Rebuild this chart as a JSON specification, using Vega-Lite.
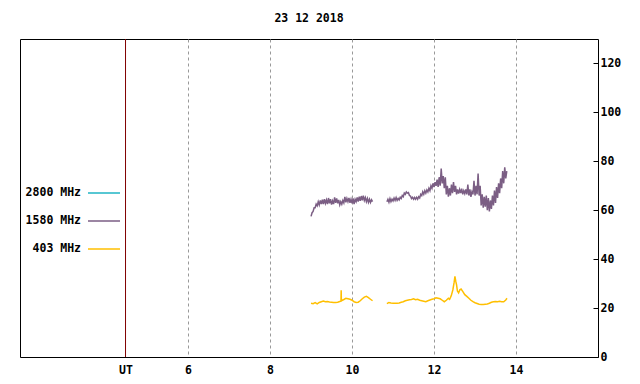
{
  "$schema": "https://vega.github.io/schema/vega-lite/v6.json",
  "width": 578,
  "height": 318,
  "autosize": {"type": "none"},
  "padding": {"left": 20, "top": 39, "right": 42, "bottom": 27},
  "background": "white",
  "title": {"text": "23 12 2018", "font": "DejaVu Sans Mono", "fontSize": 11.5, "fontWeight": "bold", "color": "black", "offset": 14, "anchor": "middle"},
  "config": {
    "view": {"stroke": "black", "strokeWidth": 1},
    "axis": {"labelFont": "DejaVu Sans Mono", "labelFontSize": 11.5, "labelFontWeight": "bold", "labelColor": "black", "labelFlush": false},
    "legend": {"labelFont": "DejaVu Sans Mono", "labelFontSize": 11.5, "labelFontWeight": "bold", "labelColor": "black"}
  },
  "datasets": {
    "ut": [{"t": 4.474}],
    "p1": [
      {"t":9.000,"v":57.5},{"t":9.025,"v":59},{"t":9.050,"v":59.5},{"t":9.075,"v":61},{"t":9.100,"v":61},{"t":9.125,"v":62.5},{"t":9.150,"v":61.8},{"t":9.175,"v":63.5},{"t":9.200,"v":62.2},{"t":9.225,"v":64},{"t":9.250,"v":62.5},{"t":9.275,"v":64.3},{"t":9.300,"v":62.5},{"t":9.325,"v":64.5},{"t":9.350,"v":62.8},{"t":9.375,"v":64.2},{"t":9.400,"v":62.5},{"t":9.425,"v":65},{"t":9.450,"v":62.8},{"t":9.475,"v":64.5},{"t":9.500,"v":62.3},{"t":9.525,"v":63.8},{"t":9.550,"v":62.5},{"t":9.575,"v":65.3},{"t":9.600,"v":63},{"t":9.625,"v":64.8},{"t":9.650,"v":62.8},{"t":9.675,"v":64.2},{"t":9.700,"v":62.2},{"t":9.725,"v":63.5},{"t":9.750,"v":62.5},{"t":9.775,"v":64},{"t":9.800,"v":63},{"t":9.825,"v":65.5},{"t":9.850,"v":63.2},{"t":9.875,"v":64.8},{"t":9.900,"v":63.5},{"t":9.925,"v":65},{"t":9.950,"v":63},{"t":9.975,"v":64.5},{"t":10.000,"v":62.8},{"t":10.025,"v":64.8},{"t":10.050,"v":62.5},{"t":10.075,"v":64.5},{"t":10.100,"v":63.5},{"t":10.125,"v":65.2},{"t":10.150,"v":63.5},{"t":10.175,"v":65.5},{"t":10.200,"v":63.8},{"t":10.225,"v":65.8},{"t":10.250,"v":64},{"t":10.275,"v":66},{"t":10.300,"v":64},{"t":10.325,"v":65.2},{"t":10.350,"v":63.5},{"t":10.375,"v":64.8},{"t":10.400,"v":63.2},{"t":10.425,"v":64.5},{"t":10.450,"v":63.2},{"t":10.475,"v":64.3},{"t":10.500,"v":63.5}
    ],
    "p2": [
      {"t":10.850,"v":63.5},{"t":10.875,"v":64.5},{"t":10.900,"v":63.3},{"t":10.925,"v":64.8},{"t":10.950,"v":63.5},{"t":10.975,"v":64.5},{"t":11.000,"v":63.8},{"t":11.025,"v":65},{"t":11.050,"v":64},{"t":11.075,"v":65.2},{"t":11.100,"v":64},{"t":11.125,"v":64.8},{"t":11.150,"v":64.2},{"t":11.175,"v":65.3},{"t":11.200,"v":64.8},{"t":11.225,"v":66},{"t":11.250,"v":65.5},{"t":11.275,"v":67},{"t":11.300,"v":66.5},{"t":11.325,"v":67.5},{"t":11.350,"v":67},{"t":11.375,"v":67.2},{"t":11.400,"v":66},{"t":11.425,"v":65.8},{"t":11.450,"v":64.8},{"t":11.475,"v":65.3},{"t":11.500,"v":64.5},{"t":11.525,"v":65.2},{"t":11.550,"v":64.5},{"t":11.575,"v":65.3},{"t":11.600,"v":64.5},{"t":11.625,"v":65.5},{"t":11.650,"v":65},{"t":11.675,"v":66.5},{"t":11.700,"v":66},{"t":11.725,"v":67.5},{"t":11.750,"v":66.5},{"t":11.775,"v":68},{"t":11.800,"v":67},{"t":11.825,"v":68.3},{"t":11.850,"v":67.5},{"t":11.875,"v":69},{"t":11.900,"v":68},{"t":11.925,"v":70},{"t":11.950,"v":69},{"t":11.975,"v":71},{"t":12.000,"v":69.5},{"t":12.025,"v":71.5},{"t":12.050,"v":70},{"t":12.075,"v":72.5},{"t":12.100,"v":69.5},{"t":12.125,"v":73.5},{"t":12.150,"v":70},{"t":12.175,"v":77},{"t":12.200,"v":71},{"t":12.225,"v":74},{"t":12.250,"v":69},{"t":12.275,"v":73.5},{"t":12.300,"v":66.5},{"t":12.325,"v":70},{"t":12.350,"v":65.5},{"t":12.375,"v":69},{"t":12.400,"v":66},{"t":12.425,"v":70.5},{"t":12.450,"v":67},{"t":12.475,"v":71.5},{"t":12.500,"v":67.5},{"t":12.525,"v":70},{"t":12.550,"v":66.5},{"t":12.575,"v":68.5},{"t":12.600,"v":66.8},{"t":12.625,"v":68.5},{"t":12.650,"v":67},{"t":12.675,"v":68.8},{"t":12.700,"v":66.5},{"t":12.725,"v":68},{"t":12.750,"v":66.8},{"t":12.775,"v":68.5},{"t":12.800,"v":66.5},{"t":12.825,"v":70.5},{"t":12.850,"v":66},{"t":12.875,"v":68.5},{"t":12.900,"v":65.5},{"t":12.925,"v":67.5},{"t":12.950,"v":66.5},{"t":12.975,"v":72},{"t":13.000,"v":66},{"t":13.025,"v":70},{"t":13.050,"v":66.5},{"t":13.075,"v":75},{"t":13.100,"v":66},{"t":13.125,"v":70},{"t":13.150,"v":62},{"t":13.175,"v":66.5},{"t":13.200,"v":61},{"t":13.225,"v":65.5},{"t":13.250,"v":61.5},{"t":13.275,"v":66},{"t":13.300,"v":60},{"t":13.325,"v":65},{"t":13.350,"v":59.5},{"t":13.375,"v":64},{"t":13.400,"v":60.5},{"t":13.425,"v":66},{"t":13.450,"v":62},{"t":13.475,"v":68},{"t":13.500,"v":63},{"t":13.525,"v":69.5},{"t":13.550,"v":65},{"t":13.575,"v":71},{"t":13.600,"v":67},{"t":13.625,"v":73},{"t":13.650,"v":69},{"t":13.675,"v":76},{"t":13.700,"v":71},{"t":13.725,"v":77.5},{"t":13.750,"v":73},{"t":13.775,"v":76}
    ],
    "o1": [
      {"t":9.00,"v":22},{"t":9.05,"v":21.8},{"t":9.10,"v":22.2},{"t":9.15,"v":21.7},{"t":9.20,"v":22.3},{"t":9.25,"v":22.6},{"t":9.30,"v":22.9},{"t":9.35,"v":22.6},{"t":9.40,"v":22.7},{"t":9.45,"v":22.5},{"t":9.50,"v":22.4},{"t":9.55,"v":22.3},{"t":9.60,"v":22.3},{"t":9.65,"v":22.4},{"t":9.70,"v":22.7},{"t":9.73,"v":22.8},{"t":9.735,"v":27.3},{"t":9.74,"v":23},{"t":9.80,"v":23.5},{"t":9.85,"v":24},{"t":9.90,"v":23.8},{"t":9.95,"v":23.6},{"t":10.00,"v":23.2},{"t":10.05,"v":22.6},{"t":10.10,"v":22.3},{"t":10.15,"v":22.4},{"t":10.20,"v":23},{"t":10.25,"v":23.8},{"t":10.30,"v":24.5},{"t":10.35,"v":24.8},{"t":10.40,"v":24.3},{"t":10.45,"v":23.6},{"t":10.50,"v":23}
    ],
    "o2": [
      {"t":10.85,"v":21.8},{"t":10.90,"v":22.3},{"t":10.95,"v":22.1},{"t":11.00,"v":22},{"t":11.05,"v":22},{"t":11.10,"v":22},{"t":11.15,"v":22.1},{"t":11.20,"v":22.4},{"t":11.25,"v":22.6},{"t":11.30,"v":23},{"t":11.35,"v":23.2},{"t":11.40,"v":23.4},{"t":11.45,"v":23.5},{"t":11.50,"v":23.8},{"t":11.55,"v":23.4},{"t":11.60,"v":23.6},{"t":11.65,"v":23.2},{"t":11.70,"v":23},{"t":11.75,"v":22.8},{"t":11.80,"v":22.6},{"t":11.85,"v":23},{"t":11.90,"v":23.3},{"t":11.95,"v":23.6},{"t":12.00,"v":23.8},{"t":12.05,"v":24.2},{"t":12.10,"v":24},{"t":12.15,"v":23.8},{"t":12.20,"v":23.2},{"t":12.25,"v":22.6},{"t":12.30,"v":23.2},{"t":12.35,"v":24},{"t":12.38,"v":23.6},{"t":12.42,"v":25},{"t":12.46,"v":27.5},{"t":12.49,"v":30.5},{"t":12.51,"v":33},{"t":12.53,"v":31},{"t":12.55,"v":29.5},{"t":12.57,"v":27},{"t":12.60,"v":26.2},{"t":12.63,"v":27.5},{"t":12.66,"v":27.8},{"t":12.70,"v":26.8},{"t":12.75,"v":25.5},{"t":12.80,"v":24.8},{"t":12.85,"v":24},{"t":12.90,"v":23.2},{"t":12.95,"v":22.6},{"t":13.00,"v":22.2},{"t":13.05,"v":21.9},{"t":13.10,"v":21.6},{"t":13.15,"v":21.5},{"t":13.20,"v":21.5},{"t":13.25,"v":21.6},{"t":13.30,"v":21.7},{"t":13.35,"v":22},{"t":13.40,"v":22.4},{"t":13.45,"v":22.6},{"t":13.50,"v":22.7},{"t":13.55,"v":22.6},{"t":13.60,"v":22.8},{"t":13.65,"v":22.6},{"t":13.70,"v":22.6},{"t":13.75,"v":23.3},{"t":13.78,"v":24}
    ]
  },
  "layer": [
    {
      "data": {"name": "ut"},
      "mark": {"type": "rule", "color": "#800000", "strokeWidth": 1},
      "encoding": {
        "x": {"field": "t", "type": "quantitative", "scale": {"domain": [1.9, 16], "nice": false, "zero": false}}
      }
    },
    {
      "data": {"name": "p1"},
      "mark": {"type": "line", "strokeWidth": 1.5, "interpolate": "linear"},
      "encoding": {
        "x": {"field": "t", "type": "quantitative", "scale": {"domain": [1.9, 16], "nice": false, "zero": false},
          "axis": {"title": null, "values": [4.474, 6, 8, 10, 12, 14], "format": "d", "labelExpr": "datum.value < 5 ? 'UT' : datum.label", "grid": true, "gridDash": [3, 3], "gridColor": {"condition": {"test": "datum.value < 5", "value": "transparent"}, "value": "#999999"}, "ticks": false, "domain": false, "labelPadding": 7}},
        "y": {"field": "v", "type": "quantitative", "scale": {"domain": [0, 130], "nice": false},
          "axis": {"title": null, "orient": "right", "values": [0, 20, 40, 60, 80, 100, 120], "grid": false, "domain": false, "tickSize": -5, "tickColor": "black", "labelPadding": 7}},
        "color": {"datum": "1580 MHz", "type": "nominal",
          "scale": {"domain": ["2800 MHz", "1580 MHz", "403 MHz"], "range": ["#1fb4c4", "#7b5e84", "#ffbf00"]},
          "legend": {"title": null, "orient": "none", "legendX": 67, "legendY": 137, "direction": "vertical", "symbolType": "stroke", "symbolSize": 1024, "symbolStrokeWidth": 1.5, "rowPadding": 5, "labelAlign": "right", "labelOffset": -40, "padding": 0}}
      }
    },
    {
      "data": {"name": "p2"},
      "mark": {"type": "line", "strokeWidth": 1.5},
      "encoding": {
        "x": {"field": "t", "type": "quantitative"},
        "y": {"field": "v", "type": "quantitative"},
        "color": {"datum": "1580 MHz", "type": "nominal"}
      }
    },
    {
      "data": {"name": "o1"},
      "mark": {"type": "line", "strokeWidth": 1.5},
      "encoding": {
        "x": {"field": "t", "type": "quantitative"},
        "y": {"field": "v", "type": "quantitative"},
        "color": {"datum": "403 MHz", "type": "nominal"}
      }
    },
    {
      "data": {"name": "o2"},
      "mark": {"type": "line", "strokeWidth": 1.5},
      "encoding": {
        "x": {"field": "t", "type": "quantitative"},
        "y": {"field": "v", "type": "quantitative"},
        "color": {"datum": "403 MHz", "type": "nominal"}
      }
    }
  ]
}
